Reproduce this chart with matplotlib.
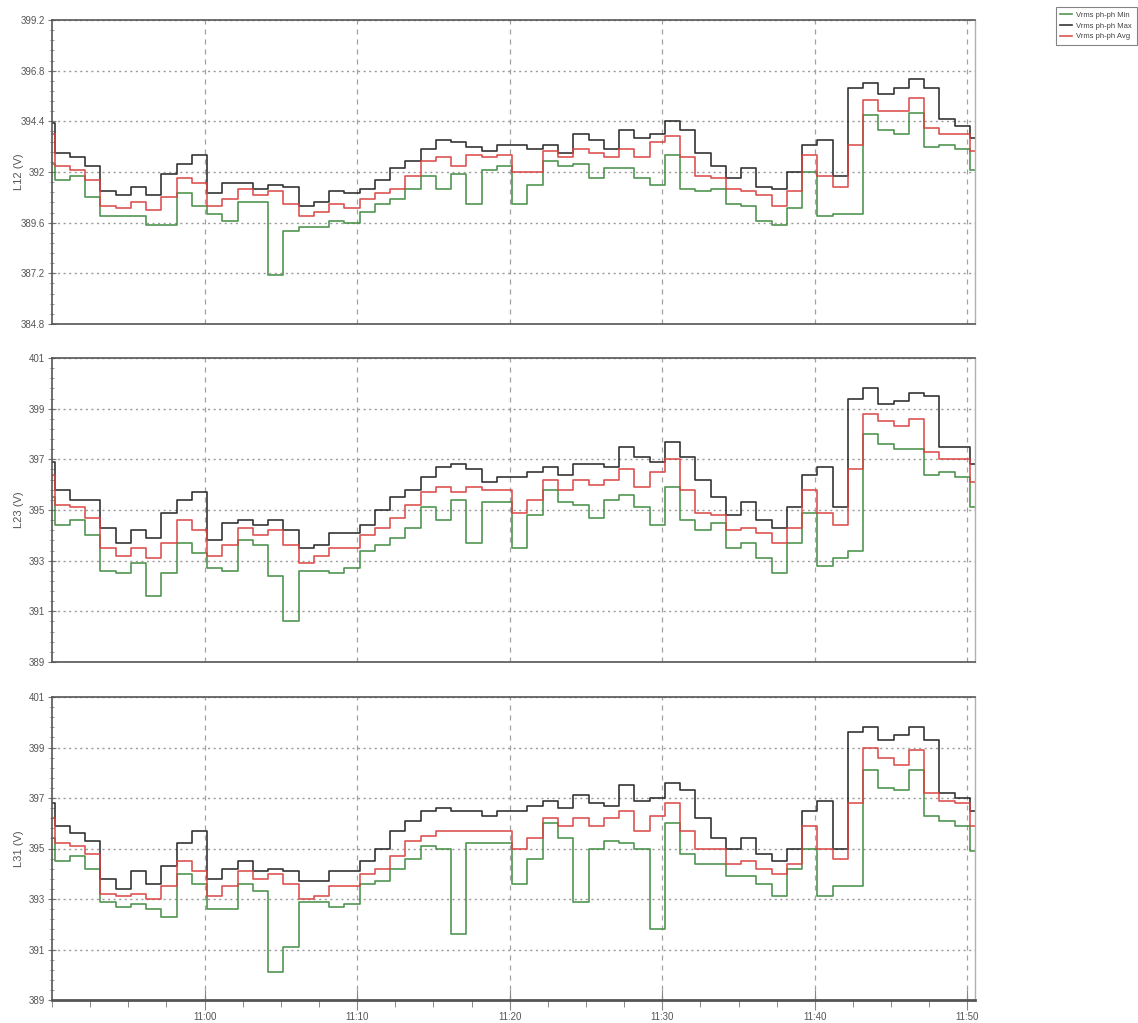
import datetime as dt
import numpy as np
import matplotlib
matplotlib.use("Agg")
import matplotlib.pyplot as plt
import matplotlib.dates as mdates
from matplotlib.ticker import FixedLocator

plt.rcParams['font.family'] = ['Liberation Sans Narrow', 'Liberation Sans', 'DejaVu Sans']

# one-minute Vrms ph-ph records, 10:50 .. 11:50 (first entry is the short
# partial interval before the first full minute)
l12_max = [394.3,
           392.9, 392.7, 392.3, 391.1, 390.9, 391.3, 390.9, 391.9, 392.4, 392.8,
           391.0, 391.5, 391.5, 391.2, 391.4, 391.3, 390.4, 390.6, 391.1, 391.0,
           391.2, 391.6, 392.2, 392.5, 393.1, 393.5, 393.4, 393.2, 393.0, 393.3,
           393.3, 393.1, 393.3, 392.9, 393.8, 393.5, 393.1, 394.0, 393.6, 393.8,
           394.4, 394.0, 392.9, 392.3, 391.7, 392.2, 391.3, 391.2, 392.0, 393.3,
           393.5, 391.8, 396.0, 396.2, 395.7, 396.0, 396.4, 396.0, 394.5, 394.2, 393.6]
l12_avg = [393.8,
           392.3, 392.1, 391.6, 390.4, 390.3, 390.6, 390.2, 390.8, 391.7, 391.5,
           390.4, 390.7, 391.2, 390.9, 391.1, 390.5, 389.9, 390.1, 390.5, 390.3,
           390.7, 391.0, 391.2, 391.8, 392.5, 392.7, 392.3, 392.8, 392.7, 392.8,
           392.0, 392.0, 393.0, 392.7, 393.1, 392.9, 392.7, 393.1, 392.7, 393.4,
           393.7, 392.7, 391.8, 391.7, 391.2, 391.1, 390.9, 390.4, 391.1, 392.8,
           391.8, 391.3, 393.3, 395.4, 394.9, 394.9, 395.5, 394.1, 393.8, 393.8, 393.0]
l12_min = [392.4,
           391.6, 391.8, 390.8, 389.9, 389.9, 389.9, 389.5, 389.5, 391.0, 390.4,
           390.0, 389.7, 390.6, 390.6, 387.1, 389.2, 389.4, 389.4, 389.7, 389.6,
           390.1, 390.5, 390.7, 391.2, 391.8, 391.2, 391.9, 390.5, 392.1, 392.3,
           390.5, 391.4, 392.5, 392.3, 392.4, 391.7, 392.2, 392.2, 391.7, 391.4,
           392.8, 391.2, 391.1, 391.2, 390.5, 390.4, 389.7, 389.5, 390.3, 392.0,
           389.9, 390.0, 390.0, 394.7, 394.0, 393.8, 394.8, 393.2, 393.3, 393.1, 392.1]

l23_max = [396.9,
           395.8, 395.4, 395.4, 394.3, 393.7, 394.2, 393.9, 394.9, 395.4, 395.7,
           393.8, 394.5, 394.6, 394.4, 394.6, 394.2, 393.5, 393.6, 394.1, 394.1,
           394.4, 395.0, 395.5, 395.8, 396.3, 396.7, 396.8, 396.6, 396.1, 396.3,
           396.3, 396.5, 396.7, 396.4, 396.8, 396.8, 396.7, 397.5, 397.1, 396.9,
           397.7, 397.1, 396.2, 395.5, 394.8, 395.3, 394.6, 394.3, 395.1, 396.4,
           396.7, 395.1, 399.4, 399.8, 399.2, 399.3, 399.6, 399.5, 397.5, 397.5, 396.8]
l23_avg = [396.4,
           395.2, 395.1, 394.7, 393.5, 393.2, 393.5, 393.1, 393.7, 394.6, 394.2,
           393.2, 393.6, 394.3, 394.0, 394.2, 393.6, 392.9, 393.2, 393.5, 393.5,
           394.0, 394.3, 394.7, 395.2, 395.7, 395.9, 395.7, 395.9, 395.8, 395.8,
           394.9, 395.4, 396.2, 395.8, 396.2, 396.0, 396.2, 396.6, 395.9, 396.5,
           397.0, 395.8, 394.9, 394.8, 394.2, 394.3, 394.1, 393.7, 394.3, 395.8,
           394.9, 394.4, 396.6, 398.8, 398.5, 398.3, 398.6, 397.3, 397.0, 397.0, 396.1]
l23_min = [395.5,
           394.4, 394.6, 394.0, 392.6, 392.5, 392.9, 391.6, 392.5, 393.7, 393.3,
           392.7, 392.6, 393.8, 393.6, 392.4, 390.6, 392.6, 392.6, 392.5, 392.7,
           393.4, 393.6, 393.9, 394.3, 395.1, 394.6, 395.4, 393.7, 395.3, 395.3,
           393.5, 394.8, 395.8, 395.3, 395.2, 394.7, 395.4, 395.6, 395.1, 394.4,
           395.9, 394.6, 394.2, 394.5, 393.5, 393.7, 393.1, 392.5, 393.7, 394.9,
           392.8, 393.1, 393.4, 398.0, 397.6, 397.4, 397.4, 396.4, 396.5, 396.3, 395.1]

l31_max = [396.8,
           395.9, 395.6, 395.3, 393.8, 393.4, 394.1, 393.6, 394.3, 395.2, 395.7,
           393.8, 394.2, 394.5, 394.1, 394.2, 394.1, 393.7, 393.7, 394.1, 394.1,
           394.5, 395.0, 395.7, 396.1, 396.5, 396.6, 396.5, 396.5, 396.3, 396.5,
           396.5, 396.7, 396.9, 396.6, 397.1, 396.8, 396.7, 397.5, 396.9, 397.0,
           397.6, 397.3, 396.2, 395.4, 395.0, 395.4, 394.8, 394.5, 395.0, 396.5,
           396.9, 395.0, 399.6, 399.8, 399.3, 399.5, 399.8, 399.3, 397.2, 397.0, 396.5]
l31_avg = [396.2,
           395.2, 395.1, 394.8, 393.2, 393.1, 393.2, 393.0, 393.5, 394.5, 394.1,
           393.1, 393.5, 394.1, 393.8, 394.0, 393.6, 393.0, 393.1, 393.5, 393.5,
           394.0, 394.2, 394.7, 395.3, 395.5, 395.7, 395.7, 395.7, 395.7, 395.7,
           395.0, 395.4, 396.2, 395.9, 396.2, 395.9, 396.2, 396.5, 395.7, 396.3,
           396.8, 395.7, 395.0, 395.0, 394.4, 394.5, 394.2, 394.0, 394.4, 395.9,
           395.0, 394.6, 396.8, 399.0, 398.6, 398.3, 398.9, 397.2, 396.9, 396.8, 395.9]
l31_min = [395.4,
           394.5, 394.7, 394.2, 392.9, 392.7, 392.8, 392.6, 392.3, 394.0, 393.6,
           392.6, 392.6, 393.6, 393.3, 390.1, 391.1, 392.9, 392.9, 392.7, 392.8,
           393.6, 393.7, 394.2, 394.6, 395.1, 395.0, 391.6, 395.2, 395.2, 395.2,
           393.6, 394.6, 396.0, 395.4, 392.9, 395.0, 395.3, 395.2, 395.0, 391.8,
           396.0, 394.8, 394.4, 394.4, 393.9, 393.9, 393.6, 393.1, 394.2, 395.0,
           393.1, 393.5, 393.5, 398.1, 397.4, 397.3, 398.1, 396.3, 396.1, 395.9, 394.9]

panel_names = ['L12 (V)', 'L23 (V)', 'L31 (V)']
panel_series = [(l12_min, l12_max, l12_avg),
                (l23_min, l23_max, l23_avg),
                (l31_min, l31_max, l31_avg)]
panel_ylim = [(384.8, 399.2), (389.0, 401.0), (389.0, 401.0)]
series_names = ['Vrms ph-ph Min', 'Vrms ph-ph Max', 'Vrms ph-ph Avg']
series_colors = ['#3d8b3d', '#1e1e1e', '#d9413e']

t_start = dt.datetime(2020, 1, 1, 10, 50, 0)
t_end = dt.datetime(2020, 1, 1, 11, 50, 30)
first_edge = t_start + dt.timedelta(seconds=10)
n_full = len(l12_max) - 1
times = [t_start] + [first_edge + dt.timedelta(minutes=k) for k in range(n_full)]
times_closed = times + [t_end]

major_x = [dt.datetime(2020, 1, 1, 11, m) for m in range(0, 60, 10)]
minor_x = [t_start + dt.timedelta(seconds=150 * k) for k in range(25)]


def fmt_volt(v, pos):
    return ('%.1f' % v).rstrip('0').rstrip('.')


W, H = 1138, 1023
fig = plt.figure(figsize=(W / 100, H / 100), dpi=100)
boxes = [(20, 324), (358, 662), (697, 1000)]
left, right = 52, 975

axes = []
for i, (top, bottom) in enumerate(boxes):
    ax = fig.add_axes([left / W, 1 - bottom / H, (right - left) / W, (bottom - top) / H])
    axes.append(ax)
    for vals, name, col in zip(panel_series[i], series_names, series_colors):
        ax.plot(times_closed, vals + [vals[-1]], drawstyle='steps-post',
                color=col, lw=1.2, label=name, alpha=0.9)

    y0, y1 = panel_ylim[i]
    ax.set_xlim(t_start, t_end)
    ax.set_ylim(y0, y1)
    ax.yaxis.set_major_locator(FixedLocator(np.linspace(y0, y1, 7)))
    ax.yaxis.set_minor_locator(FixedLocator(np.linspace(y0, y1, 31)))
    ax.yaxis.set_major_formatter(plt.FuncFormatter(fmt_volt))
    ax.set_xticks(major_x)
    ax.xaxis.set_major_formatter(mdates.DateFormatter('%H:%M'))

    ax.grid(True, axis='y', which='major', ls=(0, (1.5, 2.5)), color='#9a9a9a', lw=1.0)
    ax.grid(True, axis='x', which='major', ls=(0, (4, 4)), color='#a0a0a0', lw=0.9)

    for side in ['top', 'left', 'bottom']:
        ax.spines[side].set_color('#555555')
        ax.spines[side].set_linewidth(1.2)
    ax.spines['right'].set_color('#b0b0b0')
    ax.spines['right'].set_linewidth(1.0)

    ax.tick_params(axis='y', which='major', direction='inout', length=6, width=0.8,
                   colors='#777777', labelsize=7, labelcolor='#555555', pad=2)
    ax.tick_params(axis='y', which='minor', direction='inout', length=3, width=0.6,
                   colors='#888888')
    ax.set_ylabel(panel_names[i], fontsize=8, color='#555555')
    ax.yaxis.set_label_coords(-28 / (right - left), 0.5)

    if i < 2:
        ax.tick_params(axis='x', which='both', bottom=False, labelbottom=False)
    else:
        ax.set_xticks(minor_x, minor=True)
        ax.spines['bottom'].set_linewidth(2.0)
        ax.tick_params(axis='x', which='major', direction='inout', length=14, width=0.8,
                       colors='#888888', labelsize=7, labelcolor='#555555', pad=2)
        ax.tick_params(axis='x', which='minor', direction='out', length=5, width=0.7,
                       colors='#888888')

handles, labels = axes[0].get_legend_handles_labels()
leg = fig.legend(handles, labels, loc='upper left', bbox_to_anchor=(1052 / W, 1 - 3 / H),
                 fontsize=5.5, frameon=True, fancybox=False, handlelength=1.5,
                 borderpad=0.6, labelspacing=0.45, handletextpad=0.6)
leg.get_frame().set_edgecolor('#666666')
leg.get_frame().set_linewidth(0.8)
for txt in leg.get_texts():
    txt.set_color('#444444')

fig.savefig('out.png', dpi=100)
